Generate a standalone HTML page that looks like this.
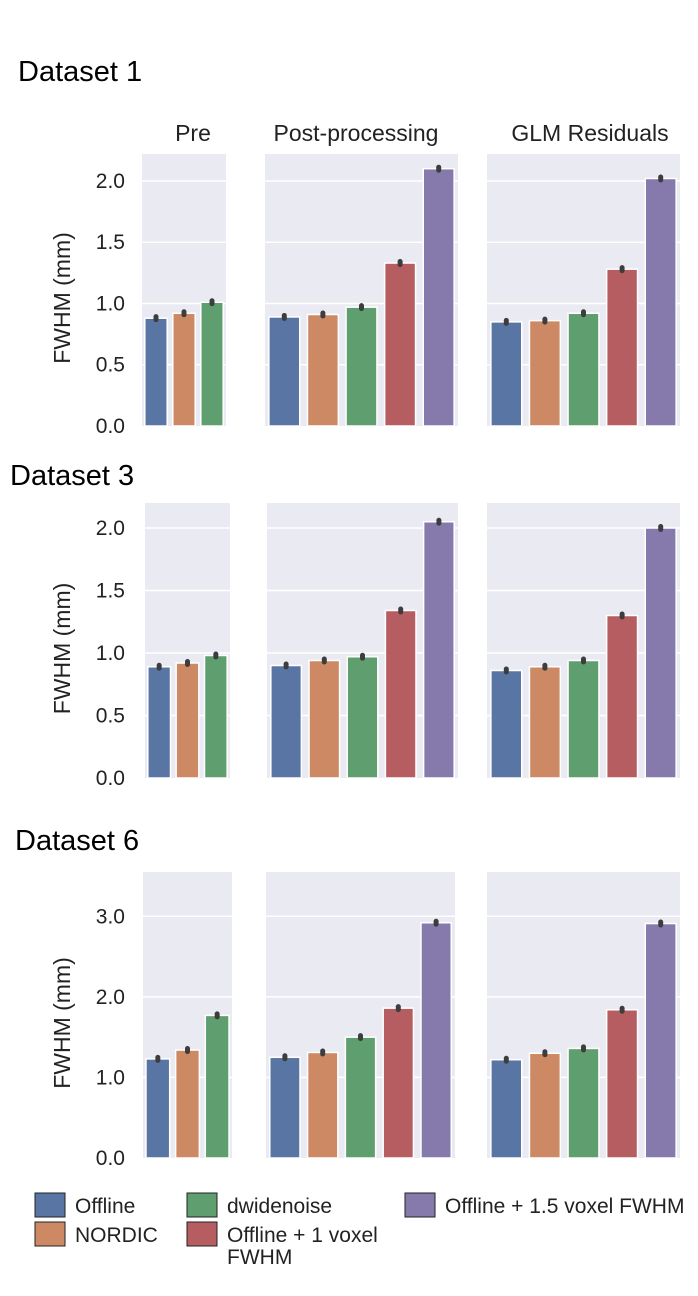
<!DOCTYPE html>
<html><head><meta charset="utf-8"><style>
body{margin:0;background:#fff;}
svg{display:block;font-family:"Liberation Sans",sans-serif;}
</style></head><body>
<svg id="chart" width="698" height="1296" viewBox="0 0 698 1296" xmlns="http://www.w3.org/2000/svg">
<text x="18" y="81" font-size="29" fill="#000">Dataset 1</text>
<text x="10" y="485" font-size="29" fill="#000">Dataset 3</text>
<text x="15" y="850" font-size="29" fill="#000">Dataset 6</text>
<text x="193" y="141" font-size="23" text-anchor="middle" fill="#222">Pre</text>
<text x="356" y="141" font-size="23" text-anchor="middle" fill="#222">Post-processing</text>
<text x="590" y="141" font-size="23" text-anchor="middle" fill="#222">GLM Residuals</text>
<g id="panels"></g>
<g id="legend"></g>
</svg>
<script>
const colors = ["#5875a4","#cc8963","#5f9e6e","#b55d60","#857aab"];
const seriesNames = ["Offline","NORDIC","dwidenoise","Offline + 1 voxel FWHM","Offline + 1.5 voxel FWHM"];
const d1Pre = [0.88,0.92,1.01];
const d1Post = [0.89,0.91,0.97,1.33,2.10];
const d1Glm = [0.85,0.86,0.92,1.28,2.02];
const d3Pre = [0.89,0.92,0.98];
const d3Post = [0.90,0.94,0.97,1.34,2.05];
const d3Glm = [0.86,0.89,0.94,1.30,2.00];
const d6Pre = [1.23,1.34,1.77];
const d6Post = [1.25,1.31,1.50,1.86,2.92];
const d6Glm = [1.22,1.30,1.36,1.84,2.91];
const ticks12 = [0,0.5,1.0,1.5,2.0];
const ticks6 = [0,1,2,3];
const tickLabels12 = ["0.0","0.5","1.0","1.5","2.0"];
const tickLabels6 = ["0.0","1.0","2.0","3.0"];

const NS="http://www.w3.org/2000/svg";
const panelsG=document.getElementById('panels');
function mk(tag,attrs,parent){const e=document.createElementNS(NS,tag);for(const k in attrs)e.setAttribute(k,attrs[k]);(parent||panelsG).appendChild(e);return e;}

const rows=[
 {top:154,bottom:426,ymax:2.22,ticks:ticks12,labels:tickLabels12,data:[d1Pre,d1Post,d1Glm],xs:[[142,226],[265,458],[487,680]],name:'dataset-1'},
 {top:503,bottom:778,ymax:2.2,ticks:ticks12,labels:tickLabels12,data:[d3Pre,d3Post,d3Glm],xs:[[145,230],[267,458],[487,680]],name:'dataset-3'},
 {top:872,bottom:1158,ymax:3.55,ticks:ticks6,labels:tickLabels6,data:[d6Pre,d6Post,d6Glm],xs:[[143,232],[266,455],[487,680]],name:'dataset-6'}
];
const panelNames=['pre','post','glm'];
rows.forEach(r=>{
  const y=v=>r.bottom-(v/r.ymax)*(r.bottom-r.top);
  r.ticks.forEach((t,i)=>{
    const tl=mk('text',{x:125,y:y(t)+7,'font-size':21,'text-anchor':'end',fill:'#222'});
    tl.textContent=r.labels[i];
    
    
  });
  const yl=mk('text',{x:0,y:0,'font-size':23,'text-anchor':'middle',fill:'#222',transform:`translate(70,${(r.top+r.bottom)/2+8}) rotate(-90)`});
  yl.textContent='FWHM (mm)';
  
  
  r.data.forEach((vals,pi)=>{
    const [x0,x1]=r.xs[pi];
    const bg=mk('rect',{x:x0,y:r.top,width:x1-x0,height:r.bottom-r.top,fill:'#eaeaf2'});
    
    
    r.ticks.forEach(t=>{ if(t>0){
      const gl=mk('line',{x1:x0,x2:x1,y1:y(t),y2:y(t),stroke:'#fff','stroke-width':1.5});
      
      
    }});
    const slot=(x1-x0)/vals.length;
    vals.forEach((v,i)=>{
      const bx=x0+slot*i+slot*0.1, bw=slot*0.8;
      const b=mk('rect',{x:bx,y:y(v),width:bw,height:r.bottom-y(v),fill:colors[i],stroke:'#fff','stroke-width':1.5});
      
      
      const eb=mk('line',{x1:bx+bw/2,x2:bx+bw/2,y1:y(v)-1.5,y2:y(v)+1.5,stroke:'#3d3d3d','stroke-width':5,'stroke-linecap':'round'});
      
      
    });
  });
});

const lg=document.getElementById('legend');
const legPos=[[35,1193],[35,1222],[187,1193],[187,1222],[405,1193]];
const legText=[["Offline"],["NORDIC"],["dwidenoise"],["Offline + 1 voxel","FWHM"],["Offline + 1.5 voxel FWHM"]];
legPos.forEach((p,i)=>{
  const g=mk('g',{},lg);
  
  
  mk('rect',{x:p[0],y:p[1],width:30,height:24,fill:colors[i],stroke:'#222','stroke-width':1},g);
  legText[i].forEach((s,j)=>{
    const t=mk('text',{x:p[0]+40,y:p[1]+20+j*22,'font-size':21,fill:'#222'},g);
    t.textContent=s;
  });
});
</script>
</body></html>
